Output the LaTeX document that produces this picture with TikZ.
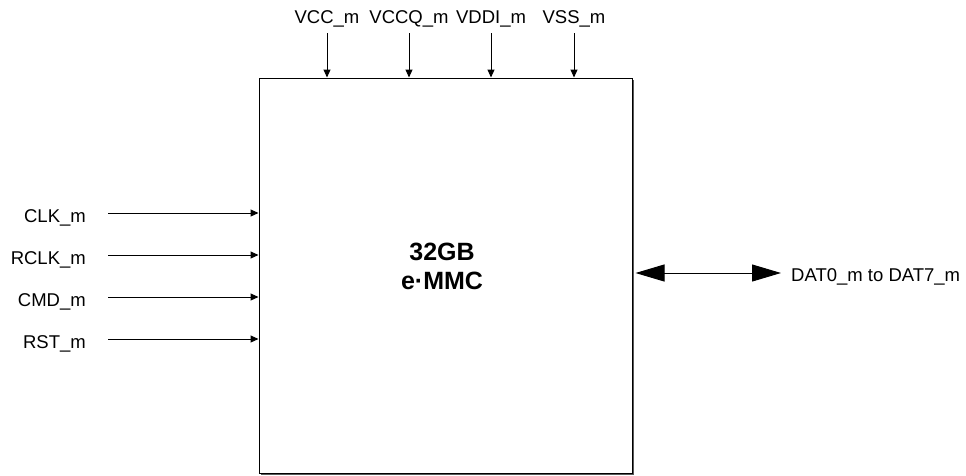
\documentclass[tikz,border=0pt]{standalone}
\usepackage{fontspec}
\setmainfont{Liberation Sans}
\usetikzlibrary{arrows.meta,shadows}

\begin{document}
\begin{tikzpicture}[x=1pt,y=-1pt,
    every node/.style={inner sep=0pt,font=\fontsize{18.5}{22}\selectfont},
    chip/.style={draw,line width=1pt,fill=white,
        drop shadow={shadow xshift=1.5pt,shadow yshift=-1.5pt,fill=black!65,opacity=1}},
    sig/.style={line width=1pt,-{Triangle[length=8pt,width=7pt]}},
    bus/.style={line width=1pt,{Triangle[length=29pt,width=17pt]}-{Triangle[length=29pt,width=17pt]}}]
    \useasboundingbox (0,0) rectangle (966,475);

    \node[chip,minimum width=373pt,minimum height=395pt] (emmc) at (445.5,275.5) {};
    \node[align=center,font=\fontsize{25}{29}\selectfont\bfseries] (name) at (442,266) {32GB\\e·MMC};

    % supplies on top
    \node[anchor=base] (vcc) at (327,23) {VCC\_m};
    \node[anchor=base] (vccq) at (409,23) {VCCQ\_m};
    \node[anchor=base] (vddi) at (491,23) {VDDI\_m};
    \node[anchor=base] (vss) at (574,23) {VSS\_m};
    \coordinate (vcc-in) at (327,33);
    \coordinate (vccq-in) at (409,33);
    \coordinate (vddi-in) at (491,33);
    \coordinate (vss-in) at (574,33);
    \draw[sig] (vcc-in) -- (vcc-in |- emmc.north);
    \draw[sig] (vccq-in) -- (vccq-in |- emmc.north);
    \draw[sig] (vddi-in) -- (vddi-in |- emmc.north);
    \draw[sig] (vss-in) -- (vss-in |- emmc.north);

    % control inputs
    \node[anchor=base east] (clk) at (86,222) {CLK\_m};
    \node[anchor=base east] (rclk) at (86,264) {RCLK\_m};
    \node[anchor=base east] (cmd) at (86,306) {CMD\_m};
    \node[anchor=base east] (rst) at (86,348) {RST\_m};
    \coordinate (clk-in) at (108,213);
    \coordinate (rclk-in) at (108,255);
    \coordinate (cmd-in) at (108,297);
    \coordinate (rst-in) at (108,339);
    \draw[sig] (clk-in) -- (clk-in -| emmc.west);
    \draw[sig] (rclk-in) -- (rclk-in -| emmc.west);
    \draw[sig] (cmd-in) -- (cmd-in -| emmc.west);
    \draw[sig] (rst-in) -- (rst-in -| emmc.west);

    % data bus
    \node[anchor=base west] (dat) at (791,281) {DAT0\_m to DAT7\_m};
    \coordinate (dat-end) at (781,273);
    \draw[bus] ([xshift=3pt]emmc.east |- dat-end) -- (dat-end);
\end{tikzpicture}
\end{document}
